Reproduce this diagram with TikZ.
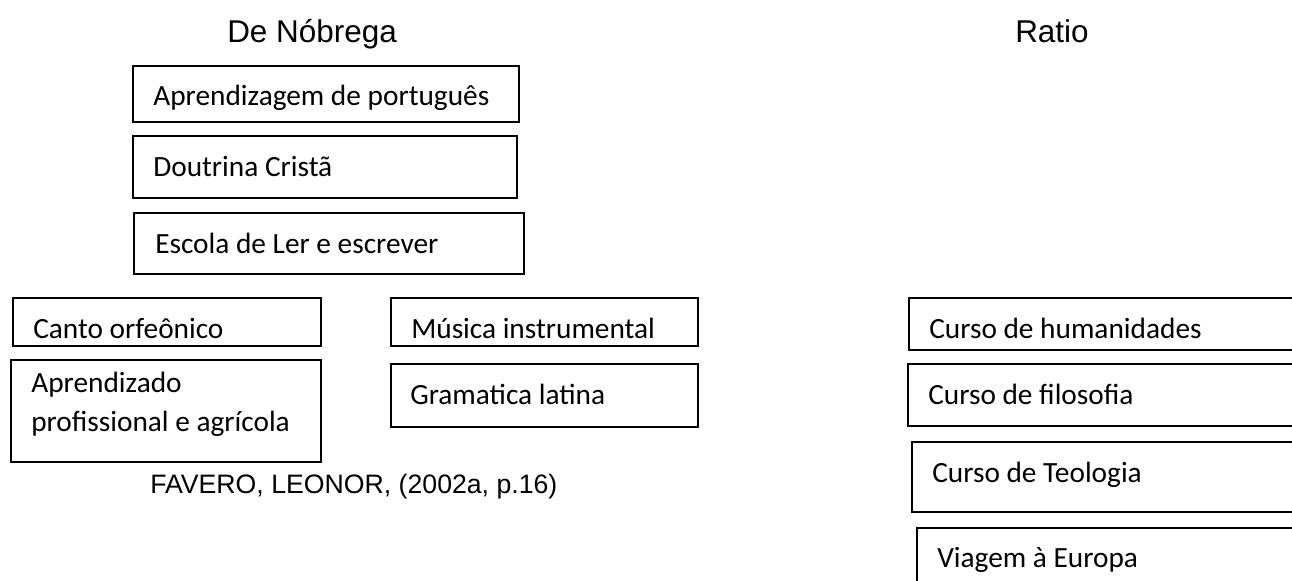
\documentclass[tikz,border=0pt]{standalone}
\usepackage{fontspec}
\setmainfont{Carlito}
\newfontfamily\arialfont{Liberation Sans}
\begin{document}
\begin{tikzpicture}[x=0.75pt, y=-0.75pt, line join=miter,
	caixa/.style 2 args={draw, line width=1.5pt, anchor=north west, inner sep=0pt, minimum width=#1*0.75pt, minimum height=#2*0.75pt},
	rotulo/.style={anchor=base west, inner sep=0pt, font=\fontsize{22}{30}\selectfont},
	titulo/.style={anchor=base west, inner sep=0pt, font=\arialfont\fontsize{23.6}{28}\selectfont}]
	\clip (0,0) rectangle (1292,581);

	% De Nobrega
	\node[titulo] (nobrega) at (227,43) {De Nóbrega};
	\node[caixa={386}{56}] (portugues) at (132,65) {};
	\node[rotulo] (tportugues) at ([shift={(21,41)}]portugues.north west) {Aprendizagem de português};
	\node[caixa={384}{62}] (doutrina) at (132,135) {};
	\node[rotulo] (tdoutrina) at ([shift={(21,41)}]doutrina.north west) {Doutrina Cristã};
	\node[caixa={390}{61}] (escola) at (133,212) {};
	\node[rotulo] (tescola) at ([shift={(22,41)}]escola.north west) {Escola de Ler e escrever};

	\node[caixa={308}{48}] (canto) at (12,297) {};
	\node[rotulo] (tcanto) at ([shift={(21,41)}]canto.north west) {Canto orfeônico};
	\node[caixa={310}{102}] (aprendizado) at (10,359) {};
	\node[rotulo] (taprendizado) at ([shift={(21,33)}]aprendizado.north west) {Aprendizado};
	\node[rotulo] (taprendizado2) at ([shift={(21,72)}]aprendizado.north west) {profissional e agrícola};
	\node[caixa={307}{48}] (musica) at (390,297) {};
	\node[rotulo] (tmusica) at ([shift={(21,41)}]musica.north west) {Música instrumental};
	\node[caixa={307}{63}] (gramatica) at (390,363) {};
	\node[rotulo] (tgramatica) at ([shift={(20,41)}]gramatica.north west) {Gramatica latina};

	\node[titulo, font=\arialfont\fontsize{20}{24}\selectfont] (fonte) at (150,493) {FAVERO, LEONOR, (2002a, p.16)};

	% Ratio
	\node[titulo] (ratio) at (1015,43) {Ratio};
	\node[caixa={500}{52}] (humanidades) at (908,297) {};
	\node[rotulo] (thumanidades) at ([shift={(21,41)}]humanidades.north west) {Curso de humanidades};
	\node[caixa={500}{62}] (filosofia) at (907,363) {};
	\node[rotulo] (tfilosofia) at ([shift={(21,41)}]filosofia.north west) {Curso de filosofia};
	\node[caixa={500}{70}] (teologia) at (911,441) {};
	\node[rotulo] (tteologia) at ([shift={(21,41)}]teologia.north west) {Curso de Teologia};
	\node[caixa={500}{100}] (viagem) at (916,527) {};
	\node[rotulo] (tviagem) at ([shift={(21,40)}]viagem.north west) {Viagem à Europa};
\end{tikzpicture}
\end{document}
